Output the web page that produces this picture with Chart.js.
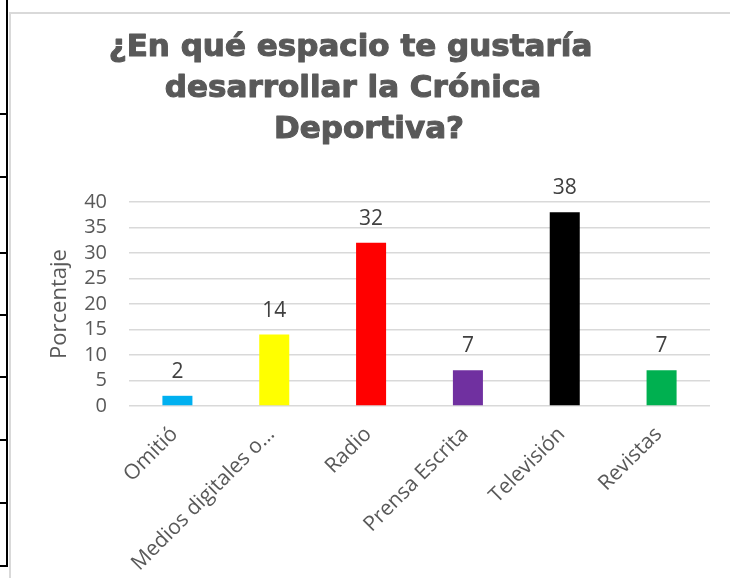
<!DOCTYPE html>
<html>
<head>
<meta charset="utf-8">
<script src="https://cdn.jsdelivr.net/npm/chart.js@4/dist/chart.umd.min.js"></script>
<style>
  html, body { margin: 0; padding: 0; background: #ffffff; overflow: hidden; }
  body { width: 730px; height: 578px; position: relative; }
  .frame-v { position: absolute; left: 6px; top: 0; width: 2px; height: 567px; background: #000; }
  .frame-h { position: absolute; left: 0; width: 8px; height: 2px; background: #000; }
  .chart-border { position: absolute; left: 9px; top: 12px; width: 730px; height: 580px;
                  border-left: 2px solid #d9d9d9; border-top: 2px solid #d9d9d9; box-sizing: border-box; }
  #wrap { position: absolute; left: 11px; top: 14px; width: 719px; height: 564px; }
</style>
</head>
<body>
<div class="frame-v"></div>
<div class="frame-h" style="top:113px"></div>
<div class="frame-h" style="top:176px"></div>
<div class="frame-h" style="top:252px"></div>
<div class="frame-h" style="top:314px"></div>
<div class="frame-h" style="top:376px"></div>
<div class="frame-h" style="top:439px"></div>
<div class="frame-h" style="top:502px"></div>
<div class="frame-h" style="top:565px"></div>
<div class="chart-border"></div>
<div id="wrap"><canvas id="c"></canvas></div>
<script>
// ---- data ----
const categories = ["Omitió", "Medios digitales o…", "Radio", "Prensa Escrita", "Televisión", "Revistas"];
const values = [2, 14, 32, 7, 38, 7];
const barColors = ["#00b0f0", "#ffff00", "#ff0000", "#7030a0", "#000000", "#00b050"];
const titleLines = ["¿En qué espacio te gustaría", "desarrollar la Crónica", "Deportiva?"];
const yAxisTitle = "Porcentaje";
const yMin = 0, yMax = 40, yStep = 5;

const titlePlugin = {
  id: 'customTitle',
  afterDraw(chart) {
    const ctx = chart.ctx;
    ctx.save();
    ctx.font = 'bold 31px "DejaVu Sans"';
    ctx.fillStyle = '#595959';
    ctx.strokeStyle = '#595959';
    ctx.lineWidth = 1.1;
    ctx.lineJoin = 'round';
    ctx.textAlign = 'center';
    ctx.textBaseline = 'alphabetic';
    const centers = [339.5, 342, 358];
    const baselines = [42, 83, 124];
    titleLines.forEach((t, i) => {
      ctx.fillText(t, centers[i], baselines[i]);
      ctx.strokeText(t, centers[i], baselines[i]);
    });
    ctx.restore();
  }
};

const valueLabels = {
  id: 'valueLabels',
  afterDatasetsDraw(chart) {
    const ctx = chart.ctx;
    const meta = chart.getDatasetMeta(0);
    ctx.save();
    ctx.font = '21px "Open Sans"';
    ctx.fillStyle = '#404040';
    ctx.textAlign = 'center';
    ctx.textBaseline = 'alphabetic';
    meta.data.forEach((bar, i) => {
      ctx.fillText(String(values[i]), bar.x, bar.y - 18);
    });
    ctx.restore();
  }
};

new Chart(document.getElementById('c'), {
  type: 'bar',
  data: {
    labels: categories,
    datasets: [{
      data: values,
      backgroundColor: barColors,
      borderWidth: 0,
      barPercentage: 0.31,
      categoryPercentage: 1.0
    }]
  },
  options: {
    responsive: true,
    maintainAspectRatio: false,
    animation: false,
    devicePixelRatio: 1,
    layout: { padding: { top: 188, right: 20, left: 0, bottom: 0 } },
    plugins: {
      legend: { display: false },
      title: { display: false },
      tooltip: { enabled: false }
    },
    scales: {
      x: {
        grid: { display: false, drawTicks: false },
        border: { display: false },
        ticks: {
          autoSkip: false,
          minRotation: 45,
          maxRotation: 45,
          padding: 16,
          labelOffset: -3,
          color: '#595959',
          font: { family: '"Open Sans"', size: 21 }
        },
        afterFit(scale) { scale.height = 172; }
      },
      y: {
        min: yMin,
        max: yMax,
        ticks: {
          stepSize: yStep,
          autoSkip: false,
          padding: 22,
          color: '#595959',
          font: { family: '"Open Sans"', size: 20, lineHeight: 1 }
        },
        grid: { color: '#d9d9d9', lineWidth: 1.5, drawTicks: false },
        border: { display: false },
        title: {
          display: true,
          text: yAxisTitle,
          color: '#595959',
          font: { family: '"Open Sans"', size: 22 },
          padding: { top: 36, bottom: 0 }
        },
        afterFit(scale) { scale.width = 118; }
      }
    }
  },
  plugins: [titlePlugin, valueLabels]
});
</script>
</body>
</html>
